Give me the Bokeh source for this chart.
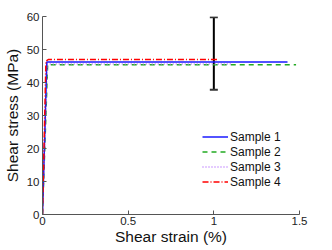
from bokeh.plotting import figure
from bokeh.models import Legend, LegendItem, Range1d, FixedTicker, Whisker, ColumnDataSource
from bokeh.embed import file_html
from bokeh.resources import INLINE

# data
s1_x = [0, 0.025, 1.43]
s1_y = [0, 46.2, 46.2]
s2_x = [0, 0.03, 1.48]
s2_y = [0, 45.4, 45.4]
s3_x = [0, 0.028, 1.10]
s3_y = [0, 45.6, 45.6]
s4_x = [0, 0.02, 0.035, 1.03]
s4_y = [0, 46.5, 47.0, 47.0]
err_x = [1.0]
err_lo = [37.8]
err_hi = [59.8]
x_ticks = [0, 0.5, 1, 1.5]
y_ticks = [0, 10, 20, 30, 40, 50, 60]

p = figure(frame_width=257, frame_height=198, output_backend="svg", toolbar_location=None,
           x_range=Range1d(0, 1.5), y_range=Range1d(0, 60),
           min_border_left=36, min_border_right=20, min_border_top=16, min_border_bottom=0)
p.outline_line_color = None
p.grid.grid_line_color = None
p.background_fill_color = "white"

font = "Liberation Sans"
for ax in (p.xaxis[0], p.yaxis[0]):
    ax.axis_line_color = "#555555"
    ax.major_tick_line_color = "#555555"
    ax.major_tick_in = 4
    ax.major_tick_out = 0
    ax.minor_tick_line_color = None
    ax.major_label_text_font = font
    ax.major_label_text_font_size = "11.5px"
    ax.major_label_text_color = "#222222"
    ax.axis_label_text_font = font
    ax.axis_label_text_font_size = "15.5px"
    ax.axis_label_text_font_style = "normal"
    ax.axis_label_text_color = "#111111"
p.xaxis.ticker = FixedTicker(ticks=x_ticks)
p.yaxis.ticker = FixedTicker(ticks=y_ticks)
p.xaxis.axis_label = "Shear strain (%)"
p.yaxis.axis_label = "Shear stress (MPa)"
p.xaxis.major_label_standoff = 2
p.yaxis.major_label_standoff = 3
p.xaxis.axis_label_standoff = 0
p.yaxis.axis_label_standoff = 3

r2 = p.line(s2_x, s2_y, line_color="#22aa22", line_width=1.5, line_dash="5 4")
r3 = p.line(s3_x, s3_y, line_color="#bb77ff", line_width=1.5, line_dash="1 2")
r1 = p.line(s1_x, s1_y, line_color="#1a1aff", line_width=1.5)
r4 = p.line(s4_x, s4_y, line_color="#ff0000", line_width=1.5, line_dash="6 2 1 2")

src = ColumnDataSource(dict(x=err_x, lo=err_lo, hi=err_hi))
w = Whisker(base="x", lower="lo", upper="hi", source=src, line_color="black", line_width=2)
w.upper_head.size = 8
w.lower_head.size = 8
w.upper_head.line_color = "#333333"
w.lower_head.line_color = "#333333"
w.upper_head.line_width = 2
w.lower_head.line_width = 2
p.add_layout(w)

legend = Legend(items=[
    LegendItem(label="Sample 1", renderers=[r1]),
    LegendItem(label="Sample 2", renderers=[r2]),
    LegendItem(label="Sample 3", renderers=[r3]),
    LegendItem(label="Sample 4", renderers=[r4]),
], location=(160, 25))
legend.border_line_color = None
legend.background_fill_alpha = 0
legend.padding = 0
legend.margin = 0
legend.spacing = 0
legend.glyph_width = 26
legend.glyph_height = 15
legend.label_height = 15
legend.label_standoff = 2
legend.label_text_font = font
legend.label_text_font_size = "12px"
legend.label_text_color = "#111111"
p.add_layout(legend)

open("out.html", "w").write(file_html(p, INLINE))
